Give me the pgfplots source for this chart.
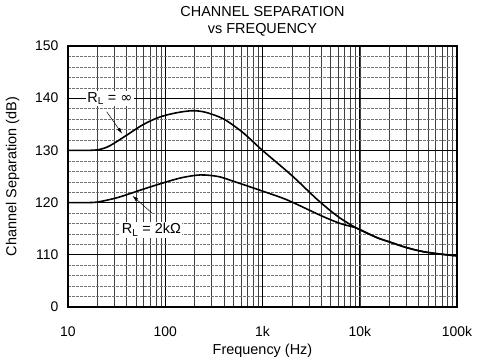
\documentclass[border=0pt]{standalone}
\usepackage{pgfplots}
\pgfplotsset{compat=1.18}
\usepackage{fontspec}
\setmainfont{Liberation Sans}
\usetikzlibrary{arrows.meta}

\begin{document}
\begin{tikzpicture}[font=\fontsize{14.5}{16}\selectfont]
\useasboundingbox (-68bp,-56bp) rectangle (418bp,307bp);
\begin{axis}[
  scale only axis,
  width=389bp, height=261bp,
  xmode=log,
  xmin=10, xmax=100000,
  ymin=100, ymax=150,
  xtick={10,100,1000,10000,100000},
  xticklabels={10,100,1k,10k,100k},
  ytick={100,110,120,130,140,150},
  yticklabels={0,110,120,130,140,150},
  minor y tick num=4,
  grid=both,
  major grid style={black, line width=0.8pt},
  minor x grid style={black!75, line width=0.4pt},
  minor y grid style={black!55, line width=0.4pt, dash pattern=on 3pt off 1pt},
  major tick length=0pt, minor tick length=0pt,
  axis line style={line width=1.4pt},
  tick label style={font=\fontsize{14}{16}\selectfont},
  /pgf/number format/assume math mode=true,
  xticklabel style={yshift=-16bp},
  yticklabel style={xshift=-6bp},
  xlabel={Frequency (Hz)},
  ylabel={Channel Separation (dB)},
  xlabel style={yshift=0bp},
  ylabel style={yshift=9bp},
  title={CHANNEL SEPARATION\\vs FREQUENCY},
  title style={align=center, font=\fontsize{14.5}{17}\selectfont, yshift=0bp},
  clip=false,
]
\addplot[black, line width=1.6pt, smooth] coordinates {
 (10,130)(15,130)(20,130.1)(25,130.6)(30,131.4)(40,132.9)(60,135)(88,136.4)
 (130,137.2)(190,137.6)(260,137.3)(400,136)(630,133.4)(1000,130)
 (2000,125.2)(3700,120.5)(6000,117.3)(9300,115.1)(15000,113.3)(20000,112.5)
 (30000,111.4)(45000,110.6)(70000,110.1)(100000,109.8)
};
\addplot[black, line width=1.6pt, smooth] coordinates {
 (10,120)(15,120)(20,120.1)(30,120.8)(40,121.5)(60,122.6)(100,123.9)(150,124.8)
 (230,125.3)(350,125)(500,124.1)(1000,122.2)(1800,120.5)(4000,117.5)(6300,116)
 (9300,115.1)(15000,113.3)(20000,112.5)(30000,111.4)(45000,110.6)(70000,110.1)
 (100000,109.8)
};
\node[fill=white, inner sep=1.5pt] at (axis cs:27,140) {R$_{\mathrm{L}}$ = \fontspec{DejaVu Sans}∞};
\draw[-{Latex[length=6pt,width=3.5pt]}, line width=0.5pt] (axis cs:25,137.4) -- (axis cs:36,133.2);
\node[fill=white, inner sep=1.5pt] at (axis cs:72,114.8) {R$_{\mathrm{L}}$ = 2kΩ};
\draw[-{Latex[length=6pt,width=3.5pt]}, line width=0.5pt] (axis cs:73,118) -- (axis cs:46,121.3);
\end{axis}
\end{tikzpicture}
\end{document}
